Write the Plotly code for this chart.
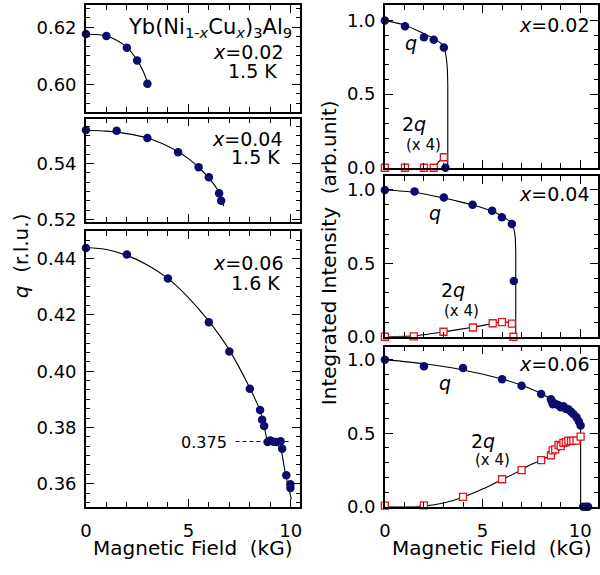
import plotly.graph_objects as go

NAVY = "#0c0c6c"
RED = "#e6141c"
FONT = "DejaVu Sans"

# ---------------- data: left column, q (r.l.u.) vs field (kG) ----------------
q02_field = [0, 1.0, 2.0, 2.5, 3.0]
q02_q = [0.6177, 0.6170, 0.6129, 0.6084, 0.6002]
fit02_field = [0, 0.5, 1.0, 1.5, 2.0, 2.5, 2.8, 3.1]
fit02_q = [0.6176, 0.6175, 0.6170, 0.6155, 0.6130, 0.6085, 0.6045, 0.5989]

q04_field = [0, 1.5, 3.0, 4.5, 5.5, 6.0, 6.5, 6.6]
q04_q = [0.5521, 0.5518, 0.5492, 0.5441, 0.5387, 0.5351, 0.5294, 0.5267]
fit04_field = [0, 1, 2, 3, 4, 4.5, 5, 5.5, 6, 6.3, 6.5, 6.73]
fit04_q = [0.5520, 0.5517, 0.5508, 0.5492, 0.5463, 0.5443, 0.5418, 0.5387, 0.5348, 0.5320, 0.5296, 0.5247]

q06_field = [0, 2.0, 4.0, 6.0, 7.0, 8.0, 8.5, 8.6, 8.7, 8.87, 9.0, 9.15, 9.3, 9.5, 9.58, 9.78, 9.98, 9.98]
q06_q = [0.4438, 0.4415, 0.4330, 0.4174, 0.4070, 0.3938, 0.3862, 0.3827, 0.3805, 0.3748,
         0.3754, 0.3749, 0.3748, 0.3751, 0.3724, 0.3630, 0.3598, 0.3585]
fit06_field = [0, 1, 2, 3, 4, 5, 6, 7, 8, 8.5, 8.7, 8.85, 9.0, 9.25, 9.5, 9.62, 9.75, 9.9, 10.02]
fit06_q = [0.4440, 0.4433, 0.4412, 0.4378, 0.4330, 0.4262, 0.4178, 0.4075, 0.3940, 0.3860,
           0.3805, 0.3757, 0.3748, 0.3743, 0.3725, 0.3685, 0.3630, 0.3585, 0.3545]
ref_q = 0.375
ref_field = [7.3, 10.0]

# ---------------- data: right column, integrated intensity ----------------
r02_q_field = [0, 1.03, 2.0, 2.5, 3.02, 3.1]
r02_q = [1.0, 0.96, 0.885, 0.869, 0.816, 0.0]
r02_2q_field = [0, 1.03, 2.0, 2.5, 3.02]
r02_2q = [0, 0, 0, 0, 0.071]
r02_fitq_field = [0, 1.0, 2.0, 2.5, 2.9, 3.05, 3.15, 3.2, 3.22]
r02_fitq = [1.0, 0.968, 0.91, 0.878, 0.84, 0.805, 0.74, 0.66, 0.56]
r02_fit2q_field = [2.5, 2.6, 2.74, 2.91]
r02_fit2q = [0.0, 0.012, 0.038, 0.06]

r04_q_field = [0, 1.52, 3.02, 4.49, 5.49, 5.99, 6.5, 6.6]
r04_q = [1.0, 0.989, 0.949, 0.90, 0.859, 0.815, 0.768, 0.38]
r04_2q_field = [0, 1.48, 3.0, 4.51, 5.52, 5.99, 6.5, 6.58]
r04_2q = [0, 0.003, 0.034, 0.063, 0.092, 0.10, 0.09, 0.0]
r04_fitq_field = [0, 1.5, 3.0, 4.5, 5.5, 6.0, 6.4, 6.6, 6.67, 6.7]
r04_fitq = [1.0, 0.985, 0.946, 0.897, 0.855, 0.822, 0.785, 0.735, 0.68, 0.58]
r04_fit2q_field = [0, 1.5, 3.0, 4.5, 5.5, 6.0, 6.4, 6.7]
r04_fit2q = [0, 0.006, 0.033, 0.065, 0.09, 0.102, 0.097, 0.091]

r06_q_field = [0, 2.0, 4.0, 6.0, 7.0, 8.0, 8.5, 8.55, 8.6, 8.72, 8.89, 9.0, 9.14, 9.26, 9.39,
               9.53, 9.65, 9.81, 9.93, 10.02, 10.15, 10.3, 10.4]
r06_q = [1.0, 0.955, 0.944, 0.866, 0.822, 0.766, 0.73, 0.715, 0.697, 0.70, 0.69, 0.677, 0.684,
         0.667, 0.663, 0.645, 0.63, 0.608, 0.579, 0.553, 0.0, 0.0, 0.0]
r06_2q_field = [0, 2.0, 4.0, 6.0, 7.0, 8.0, 8.5, 8.59, 8.72, 8.89, 9.0, 9.14, 9.26, 9.39,
                9.53, 9.65, 9.81, 10.02]
r06_2q = [0.008, 0.009, 0.067, 0.187, 0.249, 0.317, 0.35, 0.383, 0.39, 0.421, 0.412, 0.434,
          0.439, 0.45, 0.446, 0.45, 0.45, 0.477]
r06_fitq_field = [0, 2, 4, 6, 7, 7.4, 8, 8.5, 9.0, 9.5, 9.8, 9.95, 10.02]
r06_fitq = [1.0, 0.972, 0.93, 0.868, 0.826, 0.806, 0.77, 0.732, 0.69, 0.645, 0.605, 0.575, 0.54]
r06_fit2q_field = [0, 1.5, 2, 3, 4, 5, 6, 7, 7.37, 8, 8.5, 9, 9.5, 9.83, 10.02]
r06_fit2q = [0, 0, 0.004, 0.025, 0.065, 0.12, 0.185, 0.25, 0.28, 0.317, 0.35, 0.39, 0.43, 0.455, 0.465]

# tick settings
left_x_ticks = [0, 5, 10]
right_y_ticks = [0.0, 0.5, 1.0]

W, H = 600, 575
fig = go.Figure()


def fit(x, y, ax, drop=False):
    fig.add_trace(go.Scatter(x=x, y=y, mode="lines", xaxis="x" + ax, yaxis="y" + ax,
                             line=dict(color="black", width=1.1, shape="spline", smoothing=0.7),
                             hoverinfo="skip", showlegend=False))
    if drop:
        fig.add_trace(go.Scatter(x=[x[-1], x[-1]], y=[y[-1], 0], mode="lines",
                                 xaxis="x" + ax, yaxis="y" + ax,
                                 line=dict(color="black", width=1.1),
                                 hoverinfo="skip", showlegend=False))


def circles(x, y, ax):
    fig.add_trace(go.Scatter(x=x, y=y, mode="markers", xaxis="x" + ax, yaxis="y" + ax,
                             marker=dict(symbol="circle", size=8.5, color=NAVY,
                                         line=dict(width=0)),
                             cliponaxis=False, showlegend=False))


def squares(x, y, ax):
    fig.add_trace(go.Scatter(x=x, y=y, mode="markers", xaxis="x" + ax, yaxis="y" + ax,
                             marker=dict(symbol="square", size=7, color="white",
                                         line=dict(width=1.3, color=RED)),
                             cliponaxis=False, showlegend=False))


# left column
fit(fit02_field, fit02_q, "")
circles(q02_field, q02_q, "")
fit(fit04_field, fit04_q, "2")
circles(q04_field, q04_q, "2")
fit(fit06_field, fit06_q, "3")
fig.add_trace(go.Scatter(x=ref_field, y=[ref_q, ref_q], mode="lines", xaxis="x3", yaxis="y3",
                         line=dict(color="black", width=1, dash="4px,3px"),
                         hoverinfo="skip", showlegend=False))
circles(q06_field, q06_q, "3")

# right column
fit(r02_fitq_field, r02_fitq, "4", drop=True)
fit(r02_fit2q_field, r02_fit2q, "4")
squares(r02_2q_field, r02_2q, "4")
circles(r02_q_field, r02_q, "4")

fit(r04_fitq_field, r04_fitq, "5", drop=True)
fit(r04_fit2q_field, r04_fit2q, "5")
squares(r04_2q_field, r04_2q, "5")
circles(r04_q_field, r04_q, "5")

fit(r06_fitq_field, r06_fitq, "6", drop=True)
fit(r06_fit2q_field, r06_fit2q, "6")
squares(r06_2q_field, r06_2q, "6")
circles(r06_q_field, r06_q, "6")


def ydom(top_px, bot_px):
    return [1 - bot_px / H, 1 - top_px / H]


common = dict(showline=True, linecolor="black", linewidth=1.5, mirror="allticks",
              ticks="inside", ticklen=8, tickwidth=1.2, tickcolor="black",
              showgrid=False, zeroline=False,
              tickfont=dict(family=FONT, size=18, color="black"))

LX = [81 / W, 298 / W]
RX = [384 / W, 1.0]
LXR = [0, 10.45]
RXR = [0, 10.91]

lminor = dict(ticks="inside", ticklen=4, tickwidth=1.0, tickcolor="black", dtick=0.02 / 6,
              showgrid=False)
xminor = dict(ticks="inside", ticklen=5, tickwidth=1.0, tickcolor="black", dtick=1,
              showgrid=False)
rminor = dict(ticks="inside", ticklen=4.5, tickwidth=1.0, tickcolor="black", dtick=0.1,
              showgrid=False)

panels = [
    # id, xdomain, xrange, ydomain, yrange, xlabels, ydtick, yfmt, yminor, ytick0
    ("", LX, LXR, ydom(5, 114), [0.5903, 0.6279], False, 0.02, ".2f", lminor, 0.52),
    ("2", LX, LXR, ydom(120.7, 226), [0.5190, 0.5562], False, 0.02, ".2f", lminor, 0.52),
    ("3", LX, LXR, ydom(235, 516), [0.3517, 0.4499], True, 0.02, ".2f", lminor, 0.36),
    ("4", RX, RXR, ydom(5, 170.7), [0, 1.105], False, 0.5, ".1f", rminor, 0),
    ("5", RX, RXR, ydom(179.3, 342.7), [0, 1.094], False, 0.5, ".1f", rminor, 0),
    ("6", RX, RXR, ydom(352.7, 515.7), [0, 1.089], True, 0.5, ".1f", rminor, 0),
]

layout_axes = {}
for pid, xd, xr, yd, yr, xlab, ydt, yfmt, ymin, yt0 in panels:
    xkey = "xaxis" + pid
    ykey = "yaxis" + pid
    layout_axes[xkey] = dict(common, domain=xd, range=xr, anchor="y" + pid,
                             tickmode="array", tickvals=left_x_ticks,
                             ticktext=[str(v) for v in left_x_ticks],
                             showticklabels=xlab, minor=xminor, ticklabelstandoff=7)
    layout_axes[ykey] = dict(common, domain=yd, range=yr, anchor="x" + pid,
                             dtick=ydt, tick0=yt0, tickformat=yfmt, minor=ymin,
                             ticklabelstandoff=4)

fig.update_layout(**layout_axes)


def ann(text, px, py, size, xanchor="center", yanchor="middle", angle=0):
    return dict(text=text, x=px / W, y=1 - py / H, xref="paper", yref="paper",
                xanchor=xanchor, yanchor=yanchor, showarrow=False, textangle=angle,
                font=dict(family=FONT, size=size, color="black"), borderpad=0)


anns = [
    ann("Yb(Ni<sub>1-<i>x</i></sub>Cu<sub><i>x</i></sub>)<sub>3</sub>Al<sub>9</sub>", 291, 28, 21, "right"),
    ann("<i>x</i>=0.02", 282, 53, 19, "right"),
    ann("1.5 K", 276, 72, 19, "right"),
    ann("<i>x</i>=0.04", 281, 141, 19, "right"),
    ann("1.5 K", 279, 160, 19, "right"),
    ann("<i>x</i>=0.06", 282, 268, 19, "right"),
    ann("1.6 K", 279, 288, 19, "right"),
    ann("0.375", 200.5, 450.7, 16),
    ann("<i>x</i>=0.02", 592, 25, 19, "right"),
    ann("<i>x</i>=0.04", 592, 197, 19, "right"),
    ann("<i>x</i>=0.06", 592, 370, 19, "right"),
    ann("<i>q</i>", 410, 44, 19),
    ann("2<i>q</i>", 414, 126, 19),
    ann("(x 4)", 423, 147.5, 15),
    ann("<i>q</i>", 435, 217, 19),
    ann("2<i>q</i>", 453, 295, 19),
    ann("(x 4)", 462, 316, 15),
    ann("<i>q</i>", 445, 390, 19),
    ann("2<i>q</i>", 483, 449, 19),
    ann("(x 4)", 493, 468, 15),
    ann("Magnetic Field\u00a0 (kG)", 189.5, 558, 20),
    ann("Magnetic Field\u00a0 (kG)", 492.5, 558, 20),
    ann("<i>q</i>\u00a0 (r.l.u.)", 16, 260, 20, angle=-90),
    ann("Integrated Intensity\u00a0 (arb.unit)", 327, 257, 20, angle=-90),
]

fig.update_layout(width=W, height=H, margin=dict(l=0, r=0, t=0, b=0),
                  paper_bgcolor="white", plot_bgcolor="white",
                  showlegend=False, annotations=anns,
                  font=dict(family=FONT, color="black"))

fig.write_html("out.html")
